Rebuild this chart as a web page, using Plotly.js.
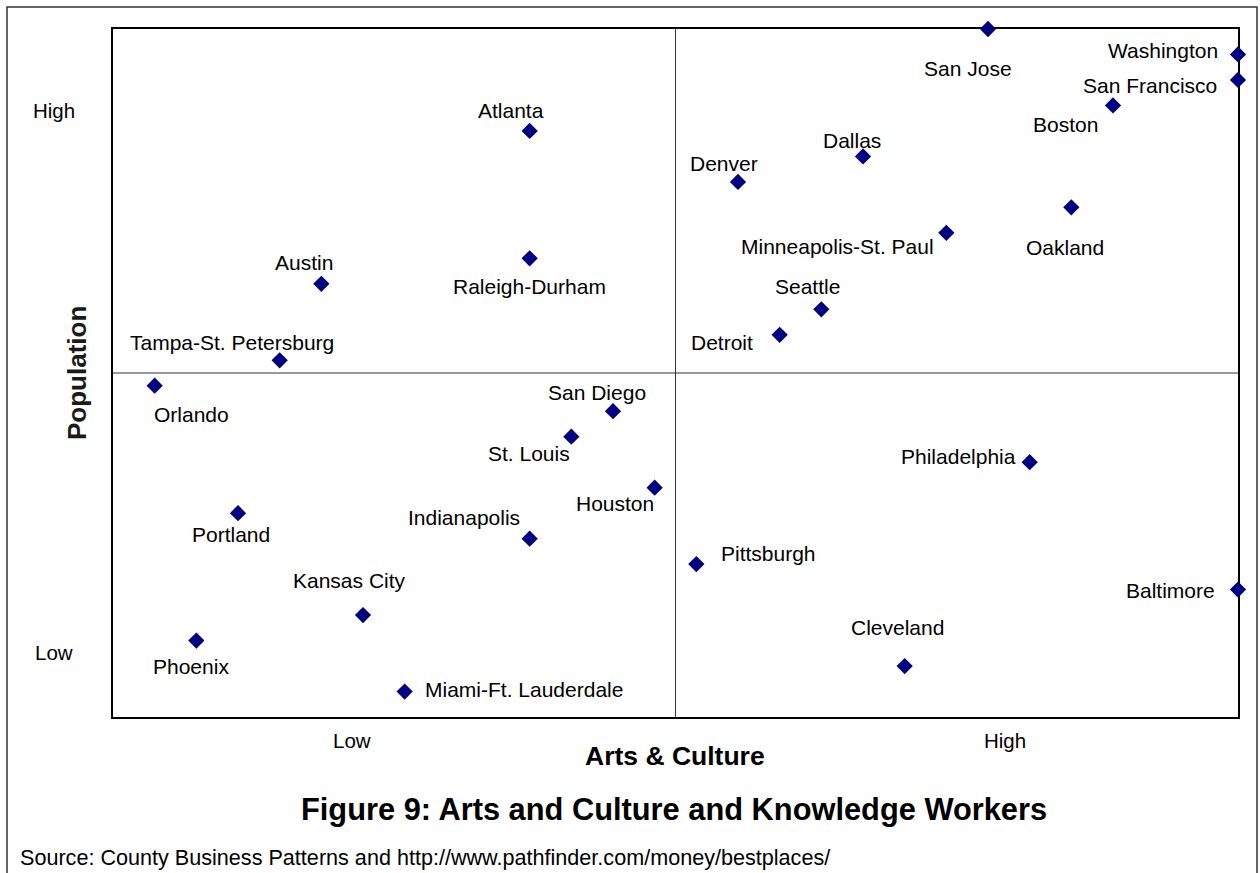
<!DOCTYPE html>
<html>
<head>
<meta charset="utf-8">
<script src="https://cdn.plot.ly/plotly-3.0.1.min.js"></script>
<style>html,body{margin:0;padding:0;background:#fff;}#chart{width:1260px;height:873px;}</style>
</head>
<body>
<div id="chart"></div>
<script>
// ---- data (rank positions) ----
const cities = ["Orlando","Phoenix","Portland","Tampa-St. Petersburg","Austin","Kansas City","Miami-Ft. Lauderdale",
  "Atlanta","Raleigh-Durham","Indianapolis","St. Louis","San Diego","Houston","Pittsburgh","Denver","Detroit",
  "Seattle","Dallas","Cleveland","Minneapolis-St. Paul","San Jose","Philadelphia","Oakland","Boston",
  "Washington","San Francisco","Baltimore"];
const artsCulture = [1,2,3,4,5,6,7,10,10,10,11,12,13,14,15,16,17,18,19,20,21,22,23,24,27,27,27];
const population  = [13,3,8,14,17,4,1,23,18,7,11,12,9,6,21,15,16,22,2,19,27,10,20,24,26,25,5];
const xTickVals = [5.74, 21.4];
const yTickVals = [2.55, 23.8];
const tickText = ["Low","High"];

// ---- label placement (pixel offsets from each marker) ----
const labelShift = {
  "Atlanta":[-19,20],"Raleigh-Durham":[0,-28],"Austin":[-17,21],"Tampa-St. Petersburg":[-48,18],
  "Orlando":[37,-29],"San Diego":[-16,19],"St. Louis":[-42,-17],"Houston":[-40,-16],
  "Indianapolis":[-66,21],"Portland":[-7,-21],"Kansas City":[-14,35],"Phoenix":[-5,-26],
  "Miami-Ft. Lauderdale":[119,2],"Denver":[-14,18],"Dallas":[-11,16],"San Jose":[-20,-39],
  "Washington":[-75,4],"San Francisco":[-88,-6],"Boston":[-48,-19],"Oakland":[-6,-40],
  "Minneapolis-St. Paul":[-109,-14],"Seattle":[-14,23],"Detroit":[-58,-8],"Philadelphia":[-71,6],
  "Pittsburgh":[72,11],"Baltimore":[-68,-1],"Cleveland":[-7,39]
};

const FONT = "Liberation Sans, Arial, Helvetica, sans-serif";

const annotations = cities.map((c,i)=>({
  x: artsCulture[i], y: population[i], xref:"x", yref:"y", text:c, showarrow:false,
  xanchor:"center", yanchor:"middle",
  xshift: labelShift[c][0], yshift: labelShift[c][1],
  font:{family:FONT, size:21, color:"#000"}
}));
// axis category labels
xTickVals.forEach((v,i)=>annotations.push({x:v, y:0, xref:"x", yref:"y", text:tickText[i], showarrow:false,
  xanchor:"center", yanchor:"middle", yshift:-23, font:{family:FONT,size:20.5,color:"#000"}}));
yTickVals.forEach((v,i)=>annotations.push({x:0, y:v, xref:"x", yref:"y", text:tickText[i], showarrow:false,
  xanchor:"center", yanchor:"middle", xshift:-59, font:{family:FONT,size:20.5,color:"#000"}}));
// titles
annotations.push({xref:"paper", yref:"paper", x:(675-113)/1125, y:(717-756)/688, text:"<b>Arts & Culture</b>",
  xanchor:"center", yanchor:"middle", showarrow:false, font:{family:FONT,size:26.5,color:"#000"}});
annotations.push({xref:"paper", yref:"paper", x:(77-113)/1125, y:(717-373)/688, text:"<b>Population</b>", textangle:-90,
  xanchor:"center", yanchor:"middle", showarrow:false, font:{family:FONT,size:26,color:"#1a1a1a"}});
annotations.push({xref:"paper", yref:"paper", x:(674-113)/1125, y:(717-809)/688, text:"<b>Figure 9: Arts and Culture and Knowledge Workers</b>",
  xanchor:"center", yanchor:"middle", showarrow:false, font:{family:FONT,size:30.8,color:"#000"}});
annotations.push({xref:"paper", yref:"paper", x:(18-113)/1125, y:(717-857)/688, xanchor:"left", yanchor:"middle",
  text:"Source: County Business Patterns and http://www.pathfinder.com/money/bestplaces/",
  showarrow:false, font:{family:FONT,size:21.6,color:"#000"}});

const trace = {
  x: artsCulture, y: population, text: cities, type:"scatter", mode:"markers",
  marker:{symbol:"diamond", size:12.5, color:"#000080", line:{width:0}},
  cliponaxis:false, hoverinfo:"text"
};

const layout = {
  width:1260, height:873,
  margin:{l:113, r:22, t:29, b:156},
  paper_bgcolor:"#fff", plot_bgcolor:"#fff",
  showlegend:false,
  xaxis:{range:[0,27], showgrid:false, zeroline:false, showticklabels:false, ticks:"",
    showline:true, mirror:true, linecolor:"#000", linewidth:2, layer:"below traces", fixedrange:true},
  yaxis:{range:[0,27], showgrid:false, zeroline:false, showticklabels:false, ticks:"",
    showline:true, mirror:true, linecolor:"#000", linewidth:2, layer:"below traces", fixedrange:true},
  shapes:[
    {type:"line", xref:"x", yref:"paper", x0:13.5, x1:13.5, y0:0, y1:1, line:{color:"#333", width:1}, layer:"below"},
    {type:"line", xref:"paper", yref:"y", x0:0, x1:1, y0:13.5, y1:13.5, line:{color:"#333", width:1}, layer:"below"},
    {type:"rect", xref:"paper", yref:"paper", x0:(7-113)/1125, x1:(1257-113)/1125, y0:(717-890)/688, y1:(717-7)/688,
      line:{color:"#333", width:1.5}, layer:"below"}
  ],
  annotations: annotations
};

Plotly.newPlot("chart",[trace],layout,{displayModeBar:false, staticPlot:true});
</script>
</body>
</html>
